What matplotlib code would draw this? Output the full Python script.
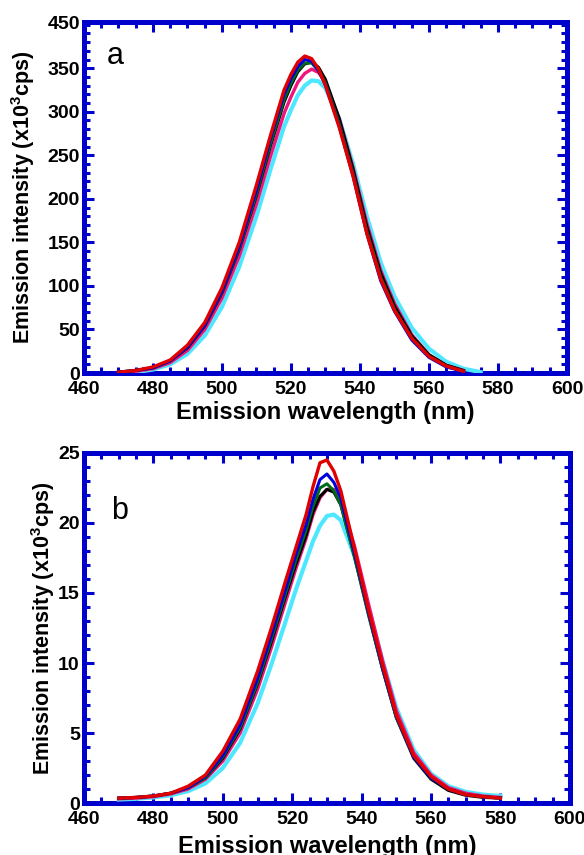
import numpy as np
import matplotlib
matplotlib.use('Agg')
import matplotlib.pyplot as plt
from matplotlib.ticker import MultipleLocator, FixedLocator, FixedFormatter

plt.rcParams['font.family'] = ['Liberation Sans', 'DejaVu Sans']
plt.rcParams['mathtext.fontset'] = 'custom'
plt.rcParams['mathtext.rm'] = 'Liberation Sans'
plt.rcParams['mathtext.bf'] = 'Liberation Sans:bold'

# panel a data (x10^3 cps)
wl_a = [470, 475, 480, 485, 490, 495, 500, 505, 510, 514, 518, 520, 522, 524,
        526, 528, 530, 534, 538, 542, 546, 550, 555, 560, 565, 570, 575]
red_a = [1, 3, 7, 15, 32, 58, 98, 150, 216, 272, 325, 343, 357, 364,
         361, 349, 330, 282, 226, 160, 108, 72, 40, 19, 8, 2, np.nan]
blue_a = [1, 3, 6, 14, 30, 55, 94, 145, 210, 268, 320, 338, 352, 360,
          358, 347, 331, 283, 226, 160, 106, 71, 38, 18, 7, 2, np.nan]
green_a = [1, 3, 6, 14, 30, 55, 93, 143, 206, 263, 314, 333, 348, 356,
           356, 347, 333, 286, 229, 163, 110, 73, 40, 19, 8, 2, np.nan]
black_a = [1, 3, 6, 14, 29, 54, 92, 142, 204, 260, 311, 330, 346, 355,
           357, 351, 337, 292, 234, 168, 115, 77, 43, 21, 9, 3, np.nan]
pink_a = [1, 2, 5, 12, 26, 50, 86, 134, 194, 248, 298, 317, 334, 344,
          349, 345, 334, 292, 236, 172, 118, 80, 44, 21, 9, 3, np.nan]
cyan_a = [np.nan, 1, 4, 10, 22, 43, 76, 122, 180, 233, 283, 302, 319, 330,
          336, 335, 327, 292, 240, 180, 127, 88, 52, 28, 13, 5, 1]

# panel b data (x10^3 cps)
wl_b = [470, 475, 480, 485, 490, 495, 500, 505, 510, 514, 518, 521, 524, 526,
        528, 530, 532, 534, 538, 542, 546, 550, 555, 560, 565, 570, 575, 580]
red_b = [0.35, 0.4, 0.5, 0.7, 1.2, 2.0, 3.7, 6.0, 9.4, 12.5, 15.8, 18.2, 20.6, 22.6,
         24.3, 24.5, 23.7, 22.3, 18.1, 13.8, 9.9, 6.3, 3.4, 1.9, 1.0, 0.6, 0.45, 0.35]
blue_b = [0.35, 0.4, 0.5, 0.7, 1.1, 1.9, 3.4, 5.6, 8.9, 12.0, 15.2, 17.7, 19.9, 21.7,
          23.1, 23.5, 22.9, 21.8, 17.8, 13.6, 9.7, 6.2, 3.3, 1.8, 1.0, 0.6, 0.45, 0.35]
green_b = [0.35, 0.4, 0.5, 0.7, 1.1, 1.8, 3.3, 5.4, 8.6, 11.7, 14.9, 17.3, 19.5, 21.2,
           22.5, 22.8, 22.3, 21.3, 17.5, 13.4, 9.6, 6.1, 3.3, 1.8, 1.0, 0.6, 0.45, 0.35]
black_b = [0.35, 0.4, 0.5, 0.7, 1.1, 1.8, 3.2, 5.3, 8.5, 11.5, 14.7, 17.0, 19.1, 20.8,
           21.9, 22.4, 22.2, 21.3, 17.6, 13.5, 9.6, 6.1, 3.2, 1.7, 0.9, 0.55, 0.4, 0.35]
pink_b = [0.3, 0.35, 0.45, 0.65, 1.0, 1.7, 3.0, 5.0, 8.1, 11.1, 14.3, 16.7, 18.9, 20.6,
          21.8, 22.4, 22.4, 21.7, 18.3, 14.2, 10.2, 6.6, 3.6, 2.0, 1.1, 0.7, 0.5, 0.4]
cyan_b = [0.25, 0.3, 0.4, 0.55, 0.85, 1.4, 2.5, 4.3, 7.1, 9.9, 12.9, 15.2, 17.3, 18.7,
          19.8, 20.5, 20.6, 20.2, 17.6, 13.9, 10.2, 6.8, 3.8, 2.1, 1.2, 0.8, 0.6, 0.5]

colors = ['#e00000', '#0000dd', '#006a1a', '#000000', '#f0147f', '#4de8ff']
widths = [2.4, 2.2, 2.2, 2.2, 2.4, 3.0]
axblue = '#0000cc'

fig = plt.figure(figsize=(5.84, 8.55), dpi=100)
ax_a = fig.add_axes([0.1438, 0.5637, 0.827, 0.4105])
ax_b = fig.add_axes([0.1438, 0.0608, 0.832, 0.4094])

series_a = [red_a, blue_a, green_a, black_a, pink_a, cyan_a]
series_b = [red_b, blue_b, green_b, black_b, pink_b, cyan_b]
order = [5, 4, 3, 2, 1, 0]  # cyan at back, red on top
for i in order:
    ax_a.plot(wl_a, series_a[i], color=colors[i], lw=widths[i], zorder=3 + (5 - i) * 0.1)
    ax_b.plot(wl_b, series_b[i], color=colors[i], lw=widths[i], zorder=3 + (5 - i) * 0.1)

ylabel = r'Emission intensity (x10$^\mathbf{3}$cps)'
for ax in (ax_a, ax_b):
    ax.set_xlim(460, 600)
    ax.xaxis.set_major_locator(MultipleLocator(20))
    ax.xaxis.set_minor_locator(MultipleLocator(5))
    for s in ax.spines.values():
        s.set_color(axblue)
        s.set_linewidth(3.6)
    ax.tick_params(which='both', direction='in', top=True, right=True,
                   color=axblue, labelsize=14)
    ax.tick_params(axis='x', pad=6)
    ax.tick_params(axis='y', pad=3)
    ax.tick_params(which='major', length=7, width=2.2)
    ax.tick_params(which='minor', length=4, width=2.2)
    ax.set_ylabel(ylabel, fontsize=15.5, fontweight='bold')

ax_a.set_xlabel('Emission wavelength (nm)', fontsize=17, fontweight='bold', labelpad=2)
ax_b.set_xlabel('Emission wavelength (nm)', fontsize=17, fontweight='bold', labelpad=5)

# panel a: top tick reads 450 in the original
ax_a.set_ylim(0, 403)
ax_a.yaxis.set_major_locator(FixedLocator([0, 50, 100, 150, 200, 250, 300, 350, 403]))
ax_a.yaxis.set_major_formatter(FixedFormatter(['0', '50', '100', '150', '200', '250',
                                                '300', '350', '450']))
ax_a.yaxis.set_minor_locator(MultipleLocator(10))
ax_b.set_ylim(0, 25)
ax_b.yaxis.set_major_locator(MultipleLocator(5))
ax_b.yaxis.set_minor_locator(MultipleLocator(1))

ax_a.yaxis.set_label_coords(-0.097, 0.5)
ax_b.yaxis.set_label_coords(-0.056, 0.5)

for ax in (ax_a, ax_b):
    for lab in ax.get_xticklabels() + ax.get_yticklabels():
        lab.set_fontweight('bold')

ax_a.text(0.047, 0.88, 'a', transform=ax_a.transAxes, fontsize=22)
ax_b.text(0.056, 0.81, 'b', transform=ax_b.transAxes, fontsize=22)

fig.savefig('out.png', dpi=100)
